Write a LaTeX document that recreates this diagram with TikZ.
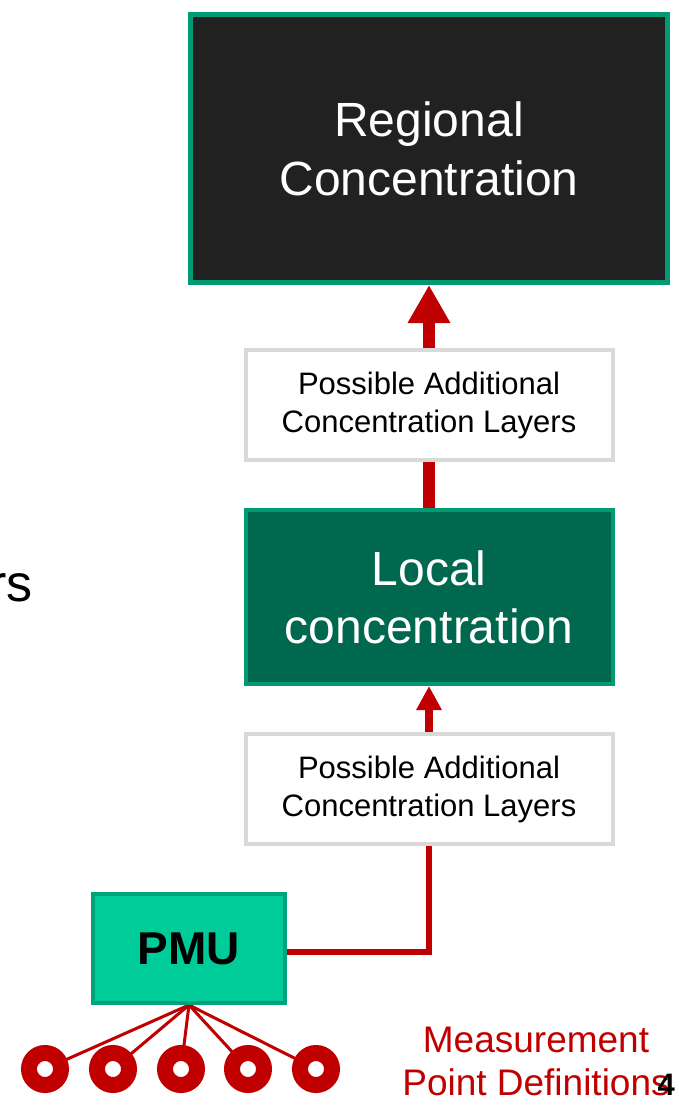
\documentclass[tikz,border=0pt]{standalone}
\usepackage{fontspec}
\setmainfont{Liberation Sans}
\usetikzlibrary{arrows.meta,backgrounds}
\definecolor{regfill}{HTML}{212121}
\definecolor{grnborder}{HTML}{009B72}
\definecolor{localfill}{HTML}{00684F}
\definecolor{pmufill}{HTML}{00CC99}
\definecolor{pmuborder}{HTML}{00A37A}
\definecolor{grayborder}{HTML}{D9D9D9}
\definecolor{darkred}{HTML}{C00000}
\tikzset{
  box/.style={rectangle, inner sep=0pt, align=center},
  regbox/.style={box, fill=regfill, draw=grnborder, line width=5pt, text=white,
    minimum width=477pt, minimum height=268pt, font=\fontsize{48}{59}\selectfont},
  localbox/.style={box, fill=localfill, draw=grnborder, line width=4pt, text=white,
    minimum width=367pt, minimum height=174pt, font=\fontsize{48}{58}\selectfont},
  possbox/.style={box, fill=white, draw=grayborder, line width=4pt, text=black,
    minimum width=367pt, minimum height=110pt, font=\fontsize{31}{38}\selectfont},
  pmubox/.style={box, fill=pmufill, draw=pmuborder, line width=4pt, text=black,
    minimum width=192pt, minimum height=109pt, font=\fontsize{46}{50}\selectfont\bfseries},
  ring/.style={circle, draw=darkred, line width=16pt, fill=white, minimum size=32pt, inner sep=0pt},
  redline/.style={draw=darkred},
}
\begin{document}
\begin{tikzpicture}[x=1pt,y=-1pt]
\useasboundingbox (0,0) rectangle (676,1097);
\node[regbox] (reg) at (429,148.5) {Regional\\Concentration};
\node[possbox] (p1) at (429,405) {Possible Additional\\Concentration Layers};
\node[localbox] (loc) at (429,597) {Local\\concentration};
\node[possbox] (p2) at (429,789) {Possible Additional\\Concentration Layers};
\node[pmubox] (pmu) at (189,948.5) {PMU};
\node[ring] (r1) at (45,1069) {};
\node[ring] (r2) at (113,1069) {};
\node[ring] (r3) at (181,1069) {};
\node[ring] (r4) at (248,1069) {};
\node[ring] (r5) at (316,1069) {};
\node[anchor=base east, font=\fontsize{52}{56}\selectfont, inner sep=0pt] (rs) at (33,601) {rs};
\node[text=darkred, align=center, font=\fontsize{37}{43}\selectfont, anchor=base] (mpd) at (536,1095) {Measurement\\Point Definitions};
\node[anchor=base east, font=\fontsize{31}{34}\selectfont\bfseries, inner sep=0pt] (num) at (675,1095) {4};
\begin{scope}[on background layer]
\draw[redline, line width=12pt, -{Triangle[width=40pt,length=38pt]}] (p1.north) -- (reg.south);
\draw[redline, line width=12pt] (loc.north) -- (p1.south);
\draw[redline, line width=8pt, -{Triangle[width=24pt,length=24pt]}] (p2.north) -- (loc.south);
\draw[redline, line width=6pt] ([yshift=-3pt]pmu.east) -| (p2.south);
\foreach \r in {r1,r2,r3,r4,r5}
  \draw[redline, line width=3pt] (pmu.south) -- (\r.center);
\end{scope}
\end{tikzpicture}
\end{document}
